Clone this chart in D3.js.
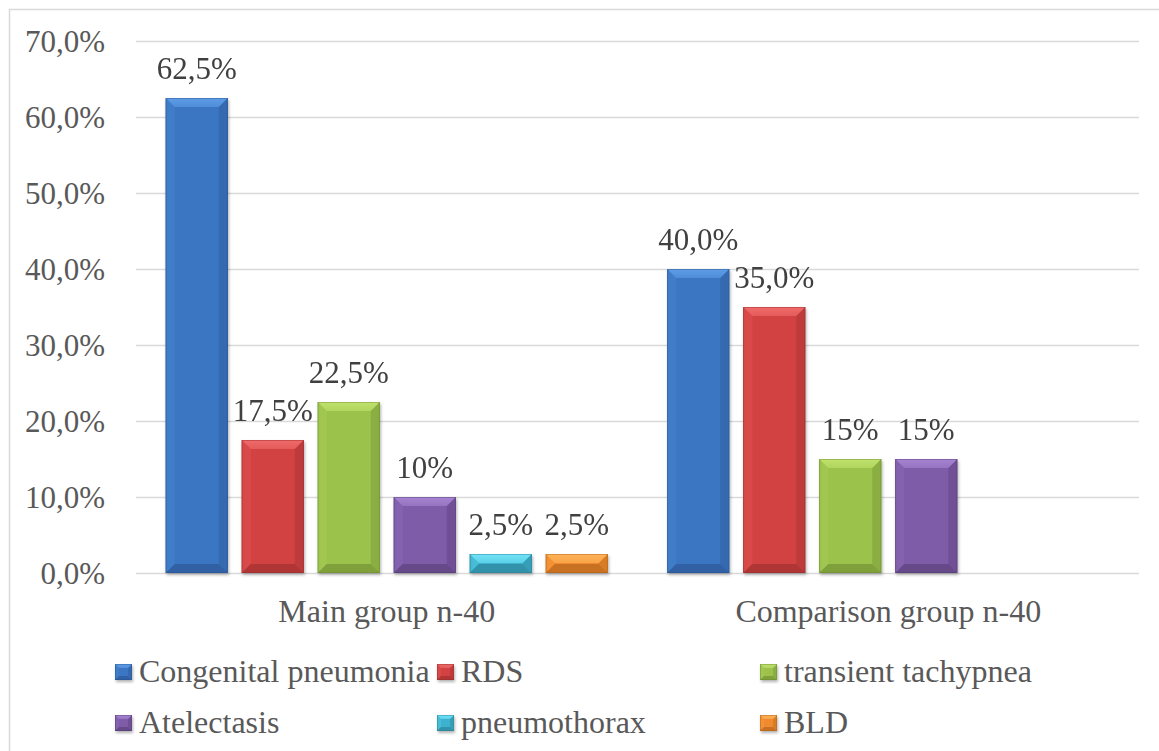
<!DOCTYPE html>
<html>
<head>
<meta charset="utf-8">
<script src="https://cdn.jsdelivr.net/npm/d3@7/dist/d3.min.js"></script>
<style>
  html, body { margin: 0; padding: 0; background: #fff; }
  svg { display: block; }
  text { font-family: "Liberation Serif", "Times New Roman", serif; }
</style>
</head>
<body>
<svg id="chart" width="1159" height="751"></svg>
<script>
// ---------------- data ----------------
const groups = ["Main group n-40", "Comparison group n-40"];
const series = ["Congenital pneumonia", "RDS", "transient tachypnea", "Atelectasis", "pneumothorax", "BLD"];
const mainValues = [0.625, 0.175, 0.225, 0.10, 0.025, 0.025];
const comparisonValues = [0.40, 0.35, 0.15, 0.15, null, null];
const mainLabels = ["62,5%", "17,5%", "22,5%", "10%", "2,5%", "2,5%"];
const comparisonLabels = ["40,0%", "35,0%", "15%", "15%", "", ""];
const yTicks = [0, 0.1, 0.2, 0.3, 0.4, 0.5, 0.6, 0.7];

// ---------------- styles ----------------
const palette = [
  { body: "#3b76c3", light: "#5e9de6", dark: "#285390" },
  { body: "#d34343", light: "#f06b6b", dark: "#982c2c" },
  { body: "#9bc24b", light: "#c0e26d", dark: "#6c8a31" },
  { body: "#7e5ba7", light: "#a684d2", dark: "#553c75" },
  { body: "#3cb2cf", light: "#72e4f8", dark: "#2a7d92" },
  { body: "#f08a2d", light: "#ffb45a", dark: "#ad601b" }
];
const NUM_FONT = 31;
const TXT_FONT = 32;

const svg = d3.select("#chart");
const plot = { left: 136, right: 1139, top: 41, bottom: 573 };

// frame
svg.append("rect").attr("x", 9.5).attr("y", 9.5).attr("width", 1160).attr("height", 760)
  .attr("fill", "#fff").attr("stroke", "#d9d9d9").attr("stroke-width", 1.5);

const defs = svg.append("defs");
const shadow = defs.append("filter").attr("id", "shadow")
  .attr("x", "-20%").attr("y", "-20%").attr("width", "140%").attr("height", "140%");
shadow.append("feDropShadow").attr("dx", 1).attr("dy", 2).attr("stdDeviation", 1.8)
  .attr("flood-color", "#000").attr("flood-opacity", 0.3);

palette.forEach((c, i) => {
  const g1 = defs.append("linearGradient").attr("id", "body" + i).attr("x1", 0).attr("x2", 1).attr("y1", 0).attr("y2", 0);
  g1.append("stop").attr("offset", 0).attr("stop-color", c.dark);
  g1.append("stop").attr("offset", 0.06).attr("stop-color", c.body);
  g1.append("stop").attr("offset", 0.94).attr("stop-color", c.body);
  g1.append("stop").attr("offset", 1).attr("stop-color", c.dark);
  const g2 = defs.append("linearGradient").attr("id", "top" + i).attr("x1", 0).attr("x2", 0).attr("y1", 0).attr("y2", 1);
  g2.append("stop").attr("offset", 0).attr("stop-color", c.light);
  g2.append("stop").attr("offset", 1).attr("stop-color", d3.interpolateRgb(c.light, c.body)(0.4));
});

// ---------------- scales ----------------
const y = d3.scaleLinear().domain([0, 0.7]).range([plot.bottom, plot.top]);
const x0 = d3.scaleBand().domain(groups).range([plot.left, plot.right]).paddingInner(0).paddingOuter(0);
const x1 = d3.scaleBand().domain(series).range([0, x0.bandwidth()]).paddingInner(0.184).paddingOuter(0.391);

const locale = d3.formatLocale({ decimal: ",", thousands: " ", grouping: [3], currency: ["", ""] });
const fmt = locale.format(".1%");

// ---------------- y axis / grid ----------------
const yAxis = d3.axisLeft(y).tickValues(yTicks).tickFormat(fmt)
  .tickSize(-(plot.right - plot.left)).tickPadding(31);
const gy = svg.append("g").attr("transform", `translate(${plot.left},0)`).call(yAxis);
gy.select(".domain").remove();
gy.selectAll(".tick line").attr("stroke", "#d9d9d9").attr("stroke-width", 1.5);
gy.selectAll(".tick text").attr("fill", "#595959").attr("font-size", NUM_FONT)
  .attr("font-family", "Liberation Serif, Times New Roman, serif").attr("dy", "0.33em");

// ---------------- x axis labels ----------------
const xAxis = d3.axisBottom(x0).tickSize(0).tickPadding(0);
const gx = svg.append("g").attr("transform", `translate(0,${plot.bottom})`).call(xAxis);
gx.select(".domain").remove();
gx.selectAll(".tick text").attr("fill", "#595959").attr("font-size", TXT_FONT)
  .attr("font-family", "Liberation Serif, Times New Roman, serif").attr("dy", 0).attr("y", 49);

// ---------------- bevel bar drawing ----------------
function bevelBar(g, x, yTop, w, h, i, b) {
  const c = palette[i];
  b = Math.min(b, h / 2, w / 2);
  const gg = g.append("g");
  gg.append("rect").attr("x", x).attr("y", yTop).attr("width", w).attr("height", h)
    .attr("fill", `url(#body${i})`);
  gg.append("polygon").attr("points", [[x, yTop], [x + b, yTop + b], [x + b, yTop + h - b], [x, yTop + h]].join(" "))
    .attr("fill", d3.interpolateRgb(c.body, c.light)(0.2)).attr("opacity", 0.9);
  gg.append("polygon").attr("points", [[x + w, yTop], [x + w - b, yTop + b], [x + w - b, yTop + h - b], [x + w, yTop + h]].join(" "))
    .attr("fill", d3.interpolateRgb(c.body, c.dark)(0.35));
  gg.append("polygon").attr("points", [[x, yTop + h], [x + b, yTop + h - b], [x + w - b, yTop + h - b], [x + w, yTop + h]].join(" "))
    .attr("fill", d3.interpolateRgb(c.body, c.dark)(0.6));
  gg.append("polygon").attr("points", [[x, yTop], [x + w, yTop], [x + w - b, yTop + b], [x + b, yTop + b]].join(" "))
    .attr("fill", `url(#top${i})`);
  gg.append("rect").attr("x", x + 0.4).attr("y", yTop + 0.4).attr("width", w - 0.8).attr("height", h - 0.8)
    .attr("fill", "none").attr("stroke", c.dark).attr("stroke-opacity", 0.55).attr("stroke-width", 0.8);
  return gg;
}

// ---------------- bars ----------------
const groupValues = [mainValues, comparisonValues];
const groupLabels = [mainLabels, comparisonLabels];
const barsLayer = svg.append("g").attr("filter", "url(#shadow)");
const labelsLayer = svg.append("g");

groups.forEach((grp, gi) => {
  series.forEach((s, si) => {
    const v = groupValues[gi][si];
    if (v == null) return;
    const bx = x0(grp) + x1(s);
    const bw = x1.bandwidth();
    const top = y(v);
    bevelBar(barsLayer, bx, top, bw, y(0) - top, si, 9);
    labelsLayer.append("text")
      .attr("x", bx + bw / 2).attr("y", top - 19)
      .attr("text-anchor", "middle").attr("fill", "#404040").attr("font-size", NUM_FONT)
      .text(groupLabels[gi][si]);
  });
});

// ---------------- legend ----------------
const legendCols = [115, 437, 760];
const legendRows = [682, 733];
const legend = svg.append("g");
series.forEach((s, si) => {
  const col = si % 3, row = Math.floor(si / 3);
  const lx = legendCols[col], ly = legendRows[row];
  const mg = legend.append("g").attr("filter", "url(#shadow)");
  bevelBar(mg, lx, ly - 18, 17, 16, si, 4);
  legend.append("text").attr("x", lx + 24).attr("y", ly)
    .attr("fill", "#595959").attr("font-size", TXT_FONT).text(s);
});
</script>
</body>
</html>
